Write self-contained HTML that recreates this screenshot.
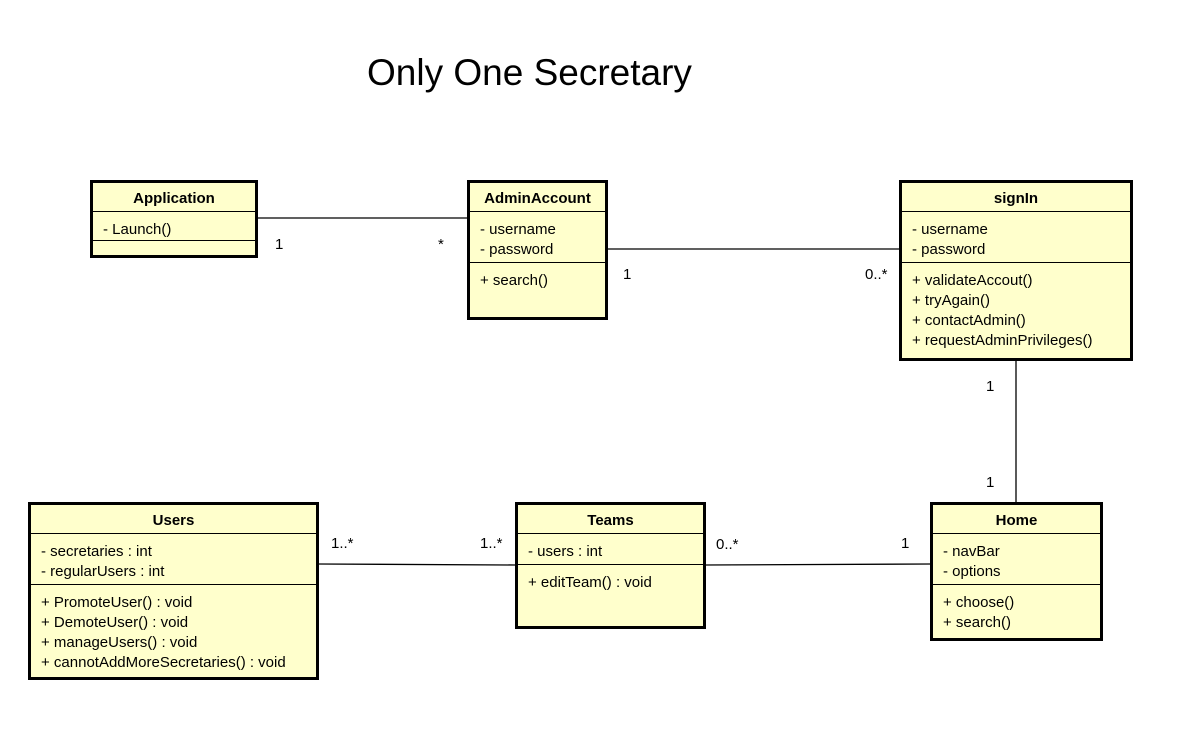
<!DOCTYPE html>
<html><head><meta charset="utf-8"><style>
body{margin:0;width:1198px;height:731px;background:#fff;position:relative;overflow:hidden;font-family:"Liberation Sans",Arial,sans-serif;}
.b{position:absolute;background:#ffffcc;border:3px solid #000;box-sizing:border-box;font-size:15px;}
.h{font-weight:bold;text-align:center;height:28px;line-height:32px;border-bottom:1px solid #000;}
.s{border-bottom:1px solid #000;padding:8px 0 2px 10px;line-height:20px;}
.s2{padding:8px 0 0 10px;line-height:20px;}
.l{position:absolute;font-size:15px;}
svg{position:absolute;left:0;top:0;}
</style></head><body>
<svg width="1198" height="731"><g stroke="#000" stroke-width="1.3" fill="none">
<line x1="258" y1="218" x2="468" y2="218"/>
<line x1="607" y1="249" x2="900" y2="249"/>
<line x1="1016" y1="360" x2="1016" y2="503"/>
<line x1="318" y1="564" x2="516" y2="565"/>
<line x1="705" y1="565" x2="931" y2="564"/>
</g></svg>
<div class="l" style="left:367px;top:52px;font-size:37px">Only One Secretary</div>

<div class="b" style="left:90px;top:180px;width:168px;height:78px"><div class="h">Application</div><div class="s" style="padding:8px 0 0 10px">- Launch()</div></div>

<div class="b" style="left:467px;top:180px;width:141px;height:140px"><div class="h">AdminAccount</div><div class="s">- username<br>- password</div><div class="s2">+ search()</div></div>

<div class="b" style="left:899px;top:180px;width:234px;height:181px"><div class="h">signIn</div><div class="s">- username<br>- password</div><div class="s2">+ validateAccout()<br>+ tryAgain()<br>+ contactAdmin()<br>+ requestAdminPrivileges()</div></div>

<div class="b" style="left:28px;top:502px;width:291px;height:178px"><div class="h">Users</div><div class="s">- secretaries : int<br>- regularUsers : int</div><div class="s2">+ PromoteUser() : void<br>+ DemoteUser() : void<br>+ manageUsers() : void<br>+ cannotAddMoreSecretaries() : void</div></div>

<div class="b" style="left:515px;top:502px;width:191px;height:127px"><div class="h">Teams</div><div class="s">- users : int</div><div class="s2">+ editTeam() : void</div></div>

<div class="b" style="left:930px;top:502px;width:173px;height:139px"><div class="h">Home</div><div class="s">- navBar<br>- options</div><div class="s2">+ choose()<br>+ search()</div></div>

<div class="l" style="left:275px;top:236px">1</div>
<div class="l" style="left:438px;top:236px">*</div>
<div class="l" style="left:623px;top:266px">1</div>
<div class="l" style="left:865px;top:266px">0..*</div>
<div class="l" style="left:986px;top:378px">1</div>
<div class="l" style="left:986px;top:474px">1</div>
<div class="l" style="left:331px;top:535px">1..*</div>
<div class="l" style="left:480px;top:535px">1..*</div>
<div class="l" style="left:716px;top:536px">0..*</div>
<div class="l" style="left:901px;top:535px">1</div>
</body></html>
